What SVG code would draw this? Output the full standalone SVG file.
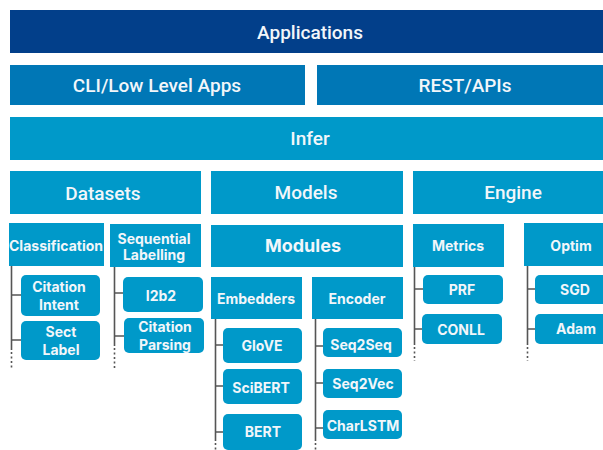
<svg xmlns="http://www.w3.org/2000/svg" width="603" height="450" viewBox="0 0 603 450">
<style>
.t{font-family:Inter,Roboto,"Liberation Sans",sans-serif;fill:#f2f6fa;text-anchor:middle;dominant-baseline:central}
.big{font-family:Roboto,"Liberation Sans",sans-serif;font-size:19px;font-weight:500}
.mid{font-size:18px;font-weight:700}
.sm{font-size:14px;font-weight:700}
.lb{fill:#0099c9}
.ln{stroke:#555;stroke-width:1.6;fill:none}
.dt{stroke:#555;stroke-width:1.6;fill:none;stroke-dasharray:2 2.5}
</style>
<rect width="603" height="450" fill="#fff"/>
<g id="applications"><rect x="10" y="10" width="593" height="43" fill="#023f8a"/><text class="t big" x="310" y="32">Applications</text></g>
<g id="cli"><rect x="10" y="65" width="295" height="40" fill="#0077b6"/><text class="t big" x="157" y="85">CLI/Low Level Apps</text></g>
<g id="rest"><rect x="317" y="65" width="286" height="40" fill="#0077b6"/><text class="t big" x="465" y="85">REST/APIs</text></g>
<g id="infer"><rect class="lb" x="10" y="117" width="593" height="43"/><text class="t big" x="310" y="138">Infer</text></g>
<g id="datasets"><rect class="lb" x="10" y="171" width="191" height="43"/><text class="t big" x="103" y="193">Datasets</text></g>
<g id="models"><rect class="lb" x="211" y="171" width="192" height="43"/><text class="t big" x="306" y="192">Models</text></g>
<g id="engine"><rect class="lb" x="413" y="171" width="190" height="43"/><text class="t big" x="513" y="192">Engine</text></g>
<g id="modules"><rect class="lb" x="211" y="225" width="192" height="42"/><text class="t mid" x="303" y="245">Modules</text></g>

<g id="connectors">
<path class="ln" d="M11.5 266V350M11.5 295H21M11.5 340H21"/><path class="dt" d="M11.5 352V368"/>
<path class="ln" d="M114.5 267V346M114.5 293H124M114.5 336H124"/><path class="dt" d="M114.5 348V368"/>
<path class="ln" d="M215.5 319V441M215.5 345H223M215.5 386H223M215.5 432H223"/><path class="dt" d="M215.5 443V450"/>
<path class="ln" d="M315.5 319V441M315.5 346H323M315.5 383H323M315.5 428H323"/><path class="dt" d="M315.5 443V450"/>
<path class="ln" d="M414.5 267V345M414.5 289H423M414.5 329H422"/><path class="dt" d="M414.5 347V361"/>
<path class="ln" d="M527.5 266V345M527.5 289H535M527.5 329H535"/><path class="dt" d="M527.5 347V361"/>
</g>

<g id="classification"><rect class="lb" x="9" y="223" width="95" height="43"/><text class="t sm" x="56" y="245">Classification</text></g>
<g id="sequential-labelling"><rect class="lb" x="110" y="224" width="91" height="43"/><text class="t sm" x="154" y="238">Sequential</text><text class="t sm" x="154" y="254">Labelling</text></g>
<g id="citation-intent"><rect class="lb" x="21" y="275" width="79" height="41" rx="5"/><text class="t sm" x="59" y="286">Citation</text><text class="t sm" x="59" y="304">Intent</text></g>
<g id="sect-label"><rect class="lb" x="21" y="321" width="79" height="39" rx="5"/><text class="t sm" x="61" y="331">Sect</text><text class="t sm" x="61" y="349">Label</text></g>
<g id="i2b2"><rect class="lb" x="123" y="277" width="80" height="35" rx="5"/><text class="t sm" x="161" y="295">I2b2</text></g>
<g id="citation-parsing"><rect class="lb" x="124" y="318" width="80" height="35" rx="5"/><text class="t sm" x="165" y="326">Citation</text><text class="t sm" x="165" y="344">Parsing</text></g>

<g id="embedders"><rect class="lb" x="211" y="277" width="91" height="42"/><text class="t sm" x="256" y="298">Embedders</text></g>
<g id="encoder"><rect class="lb" x="312" y="277" width="91" height="42"/><text class="t sm" x="357" y="298">Encoder</text></g>
<g id="glove"><rect class="lb" x="223" y="328" width="79" height="35" rx="5"/><text class="t sm" x="262" y="345">GloVE</text></g>
<g id="scibert"><rect class="lb" x="223" y="369" width="79" height="35" rx="5"/><text class="t sm" x="261" y="387">SciBERT</text></g>
<g id="bert"><rect class="lb" x="223" y="414" width="79" height="36" rx="5"/><text class="t sm" x="263" y="431">BERT</text></g>
<g id="seq2seq"><rect class="lb" x="323" y="328" width="79" height="29" rx="5"/><text class="t sm" x="361" y="344">Seq2Seq</text></g>
<g id="seq2vec"><rect class="lb" x="323" y="369" width="79" height="29" rx="5"/><text class="t sm" x="363" y="383">Seq2Vec</text></g>
<g id="charlstm"><rect class="lb" x="323" y="410" width="79" height="29" rx="5"/><text class="t sm" x="363" y="425">CharLSTM</text></g>

<g id="metrics"><rect class="lb" x="413" y="224" width="91" height="43"/><text class="t sm" x="458" y="245">Metrics</text></g>
<g id="optim"><rect class="lb" x="524" y="223" width="79" height="43"/><text class="t sm" x="571" y="245">Optim</text></g>
<g id="prf"><rect class="lb" x="423" y="275" width="80" height="29" rx="5"/><text class="t sm" x="462" y="289">PRF</text></g>
<g id="conll"><rect class="lb" x="422" y="314" width="80" height="30" rx="5"/><text class="t sm" x="461" y="329">CONLL</text></g>
<g id="sgd"><rect class="lb" x="535" y="275" width="72" height="29" rx="5"/><text class="t sm" x="575" y="289">SGD</text></g>
<g id="adam"><rect class="lb" x="535" y="314" width="72" height="30" rx="5"/><text class="t sm" x="576" y="328">Adam</text></g>
</svg>
